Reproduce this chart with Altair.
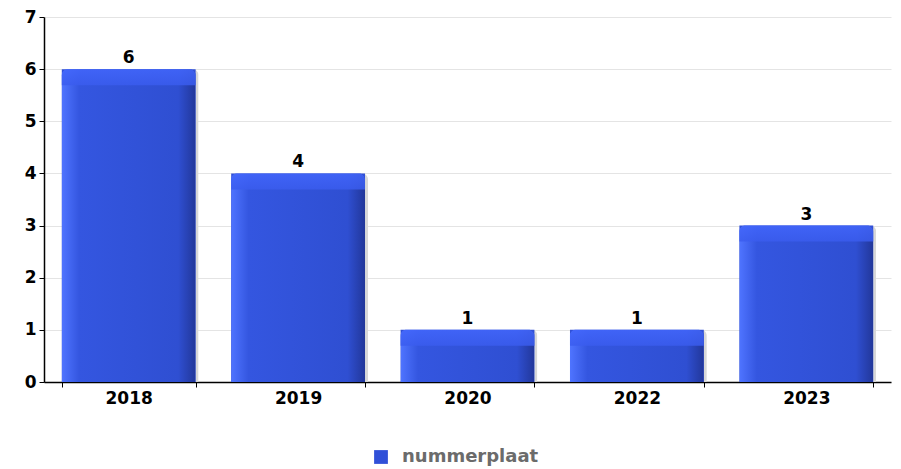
import altair as alt
import pandas as pd

years = ["2018", "2019", "2020", "2022", "2023"]
counts = [6, 4, 1, 1, 3]
series = ["nummerplaat"] * 5

df = pd.DataFrame({"jaar": years, "aantal": counts, "reeks": series})

FONT = "DejaVu Sans"

x_enc = alt.X("jaar:N", sort=years, title=None,
              scale=alt.Scale(paddingInner=0.21, paddingOuter=0.105),
              axis=alt.Axis(labelAngle=0, labelFont=FONT, labelFontWeight="bold",
                            labelFontSize=17, labelColor="#000", tickBand="extent",
                            tickColor="#000", tickSize=5, domainColor="#000",
                            labelPadding=3, grid=False))
y_enc = alt.Y("aantal:Q", title=None,
              scale=alt.Scale(domain=[0, 7], nice=False),
              axis=alt.Axis(values=list(range(8)), format="d", labelFont=FONT,
                            labelFontWeight="bold", labelFontSize=17, labelColor="#000",
                            tickColor="#000", tickSize=5, domainColor="#000",
                            gridColor="#e4e4e4", labelPadding=3))

base = alt.Chart(df)

shadow = base.mark_bar(color="#d8d8d8", xOffset=3, cornerRadiusTopRight=6).encode(x=x_enc, y=y_enc)

legend_bar = base.mark_bar().encode(
    x=x_enc, y=y_enc,
    color=alt.Color("reeks:N", title=None,
                    scale=alt.Scale(range=["#3050d8"]),
                    legend=alt.Legend(orient="none", legendX=328, legendY=431,
                                      symbolType="square", symbolSize=190,
                                      symbolStrokeWidth=0, labelFont=FONT,
                                      labelFontWeight="bold", labelFontSize=18,
                                      labelColor="#6b6b6b", padding=0, labelOffset=12)))

grad_h = alt.Gradient(
    gradient="linear", x1=0, x2=1, y1=0, y2=0,
    stops=[alt.GradientStop(offset=0, color="#4f74ff"),
           alt.GradientStop(offset=0.13, color="#3456e0"),
           alt.GradientStop(offset=0.87, color="#2f4fd2"),
           alt.GradientStop(offset=1, color="#22379a")])

main_bar = base.mark_bar(fill=grad_h, cornerRadiusTopLeft=6, cornerRadiusTopRight=6).encode(x=x_enc, y=y_enc)

grad_v = alt.Gradient(
    gradient="linear", x1=0, x2=0, y1=0, y2=1,
    stops=[alt.GradientStop(offset=0, color="#4266fb"),
           alt.GradientStop(offset=1, color="#3a5cee")])

cap = base.mark_bar(fill=grad_v, y2Offset=16, cornerRadiusTopLeft=6, cornerRadiusTopRight=6,
                    opacity=0.85).encode(x=x_enc, y=y_enc, y2="aantal:Q")

labels = base.mark_text(dy=-11, font=FONT, fontWeight="bold", fontSize=17, color="#000").encode(
    x=x_enc, y=y_enc, text="aantal:Q")

chart = alt.layer(shadow, legend_bar, main_bar, cap, labels).properties(
    width=847, height=365,
    autosize=alt.AutoSizeParams(type="none"),
    padding={"left": 36, "top": 9, "right": 2, "bottom": 86},
).configure_view(stroke=None).configure_axis(domainWidth=1.5)

chart.save("out.html", embed_options={"renderer": "svg", "actions": False})
